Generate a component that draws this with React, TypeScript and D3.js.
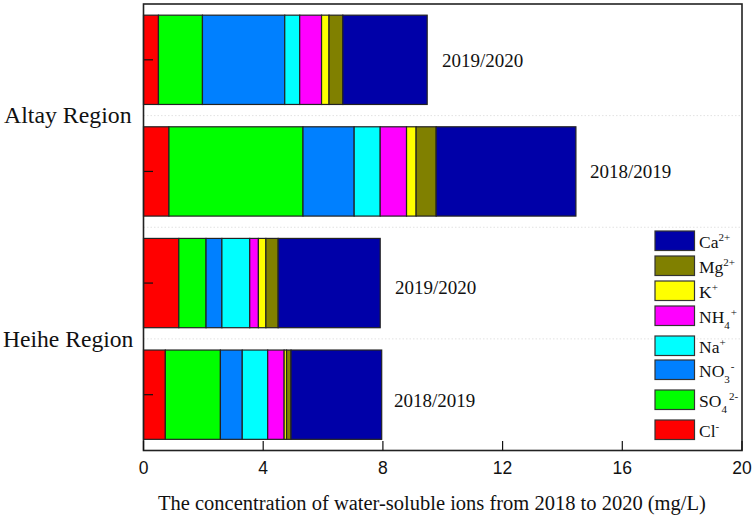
import React from "react";
import * as d3 from "d3";

const ions = ["Cl", "SO4", "NO3", "Na", "NH4", "K", "Mg", "Ca"];
const colors = ["#ff0000", "#00ff00", "#0080ff", "#00ffff", "#ff00ff", "#ffff00", "#808000", "#0000a8"];
const bars = ["A2019", "A2018", "H2019", "H2018"];
const barLabels = ["2019/2020", "2018/2019", "2019/2020", "2018/2019"];
const altay2019 = [0.5, 1.47, 2.75, 0.5, 0.73, 0.25, 0.46, 2.82];
const altay2018 = [0.85, 4.48, 1.71, 0.87, 0.88, 0.32, 0.67, 4.67];
const heihe2019 = [1.18, 0.91, 0.53, 0.93, 0.29, 0.25, 0.41, 3.41];
const heihe2018 = [0.73, 1.84, 0.73, 0.85, 0.55, 0.08, 0.15, 3.03];
const allValues = [altay2019, altay2018, heihe2019, heihe2018];
const xTicks = [0, 4, 8, 12, 16, 20];
const legendOrder = [7, 6, 5, 4, 3, 2, 1, 0];
const legendY = [231, 256, 281, 306, 336, 360, 390, 420];
const labelX = [442, 590, 395, 394];
const labelY = [67, 178, 294, 407];

const serif = "'Liberation Serif', serif";
const sans = "'Liberation Sans', sans-serif";

function LegendLabel({ i, x, y }: { i: number; x: number; y: number }) {
  const p = { fontFamily: serif, fontSize: 17.5, fill: "#111" };
  const sup = (t: string) => <tspan dy={-7} fontSize={11}>{t}</tspan>;
  const sub = (t: string) => <tspan dy={6} fontSize={11}>{t}</tspan>;
  if (i === 7) return <text x={x} y={y} {...p}>Ca{sup("2+")}</text>;
  if (i === 6) return <text x={x} y={y} {...p}>Mg{sup("2+")}</text>;
  if (i === 5) return <text x={x} y={y} {...p}>K{sup("+")}</text>;
  if (i === 4) return <text x={x} y={y} {...p}>NH{sub("4")}<tspan dy={-13} dx={1} fontSize={11}>+</tspan></text>;
  if (i === 3) return <text x={x} y={y} {...p}>Na{sup("+")}</text>;
  if (i === 2) return <text x={x} y={y} {...p}>NO{sub("3")}<tspan dy={-13} dx={1} fontSize={11}>-</tspan></text>;
  if (i === 1) return <text x={x} y={y} {...p}>SO{sub("4")}<tspan dy={-13} dx={2} fontSize={11}>2-</tspan></text>;
  return <text x={x} y={y} {...p}>Cl{sup("-")}</text>;
}

export default function App() {
  const x = d3.scaleLinear().domain([0, 20]).range([143.5, 742]);
  const y = d3.scaleBand().domain(bars).range([4, 450.5]).paddingInner(0.2).paddingOuter(0.1);
  const separators = [1, 2, 3].map((k) => y(bars[k])! - (y.step() - y.bandwidth()) / 2);
  return (
    <svg width={754} height={518} style={{ position: "absolute", left: 0, top: 0, background: "#fff" }}>
      {separators.map((s) => (
        <line key={s} x1={143.5} x2={742} y1={s} y2={s} stroke="#e2e2e2" strokeDasharray="1.5 2" />
      ))}
      {bars.map((b, bi) => {
        const stack = d3.cumsum(allValues[bi]);
        return (
          <g key={b}>
            {ions.map((ion, i) => (
              <rect
                key={ion}
                x={x(i === 0 ? 0 : stack[i - 1])}
                y={y(b)}
                width={x(stack[i]) - x(i === 0 ? 0 : stack[i - 1])}
                height={y.bandwidth()}
                fill={colors[i]}
                stroke="#222"
                strokeWidth={1.2}
              />
            ))}
            <text x={labelX[bi]} y={labelY[bi]} fontFamily={serif} fontSize={19} fill="#111">{barLabels[bi]}</text>
            <line x1={143.5} x2={153} y1={y(b)! + y.bandwidth() / 2} y2={y(b)! + y.bandwidth() / 2} stroke="#111" strokeWidth={1.2} />
          </g>
        );
      })}
      <rect x={143.5} y={4} width={598.5} height={446.5} fill="none" stroke="#222" strokeWidth={1.6} />
      {xTicks.map((t) => (
        <g key={t}>
          <line x1={x(t)} x2={x(t)} y1={450.5} y2={441} stroke="#111" strokeWidth={1.2} />
          <text x={x(t)} y={474} textAnchor="middle" fontFamily={sans} fontSize={17.5} fill="#111">{t}</text>
        </g>
      ))}
      <text x={4} y={123} fontFamily={serif} fontSize={23.8} fill="#111">Altay Region</text>
      <text x={3} y={347} fontFamily={serif} fontSize={23.6} fill="#111">Heihe Region</text>
      <text x={158} y={510} fontFamily={serif} fontSize={20.5} fill="#111">
        The concentration of water-soluble ions from 2018 to 2020 (mg/L)
      </text>
      {legendOrder.map((i, k) => (
        <g key={i}>
          <rect x={655} y={legendY[k]} width={39.5} height={19.5} fill={colors[i]} stroke="#333" strokeWidth={1.2} />
          <LegendLabel i={i} x={699} y={legendY[k] + 16.5} />
        </g>
      ))}
    </svg>
  );
}
